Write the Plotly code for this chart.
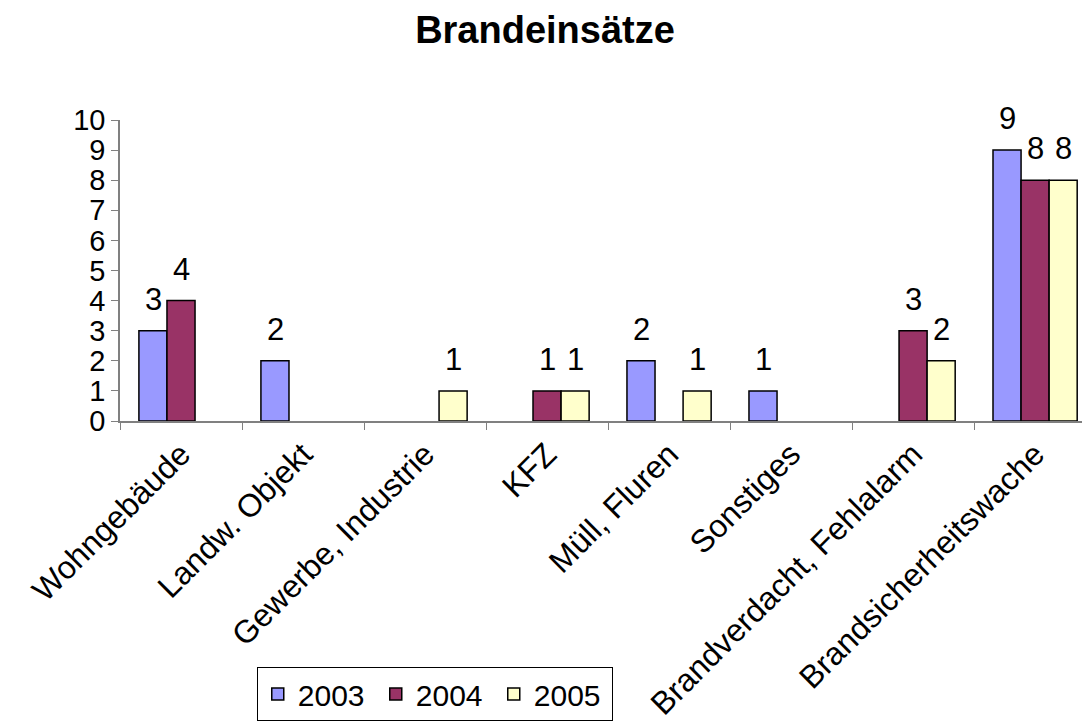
import plotly.graph_objects as go

# ---------- Data ----------
categories = ["Wohngebäude", "Landw. Objekt", "Gewerbe, Industrie", "KFZ",
              "Müll, Fluren", "Sonstiges", "Brandverdacht, Fehlalarm",
              "Brandsicherheitswache"]
years = ["2003", "2004", "2005"]
values_2003 = [3, 2, None, None, 2, 1, None, 9]
values_2004 = [4, None, None, 1, None, None, 3, 8]
values_2005 = [None, None, 1, 1, 1, None, 2, 8]
colors = ["#9999FF", "#993366", "#FFFFCC"]

FONT = "Liberation Sans, Arial, sans-serif"
# page body adds an 8px margin, so the figure is a bit smaller than the window
W, H = 1082, 714
BAR_PX = 28  # width of one bar in pixels, used to place the value labels

fig = go.Figure()
series = [values_2003, values_2004, values_2005]
for i, (name, vals, col) in enumerate(zip(years, series, colors)):
    fig.add_trace(go.Bar(
        x=categories, y=vals, name=name,
        marker=dict(color=col, line=dict(color="black", width=1.5)),
    ))
    # value labels sit a bit higher above the bars than plotly's own text
    for cat, v in zip(categories, vals):
        if v is None:
            continue
        fig.add_annotation(x=cat, y=v, text=str(v), showarrow=False,
                           xanchor="center", yanchor="bottom",
                           xshift=(i - 1) * BAR_PX, yshift=12,
                           font=dict(size=31, color="black"))

fig.update_layout(
    width=W, height=H,
    margin=dict(l=112, r=0, t=112, b=301),
    paper_bgcolor="white", plot_bgcolor="white",
    font=dict(family=FONT, size=30, color="black"),
    title=dict(text="<b>Brandeinsätze</b>", x=537 / W, xanchor="center",
               y=1 - 22 / H, yanchor="middle", font=dict(size=38)),
    barmode="group", bargap=0.31, bargroupgap=0,
    showlegend=True,
    legend=dict(orientation="h", x=0.141, y=-0.997, xanchor="left", yanchor="bottom",
                bordercolor="black", borderwidth=1, bgcolor="white",
                entrywidth=73, entrywidthmode="pixels",
                font=dict(size=30), traceorder="normal"),
)
fig.update_xaxes(range=[-0.5, 7.45], showline=True, linecolor="#808080", linewidth=1.5,
                 ticks="outside", tickson="boundaries", ticklen=7, tickcolor="#808080",
                 tickangle=-45, tickfont=dict(size=32), showgrid=False, automargin=False)
fig.update_yaxes(range=[0, 10], dtick=1, showline=True, linecolor="#808080", linewidth=1.5,
                 ticks="outside", ticklen=7, tickcolor="#808080", showgrid=False,
                 zeroline=False, tickfont=dict(size=29), automargin=False)

fig.write_html("out.html")
